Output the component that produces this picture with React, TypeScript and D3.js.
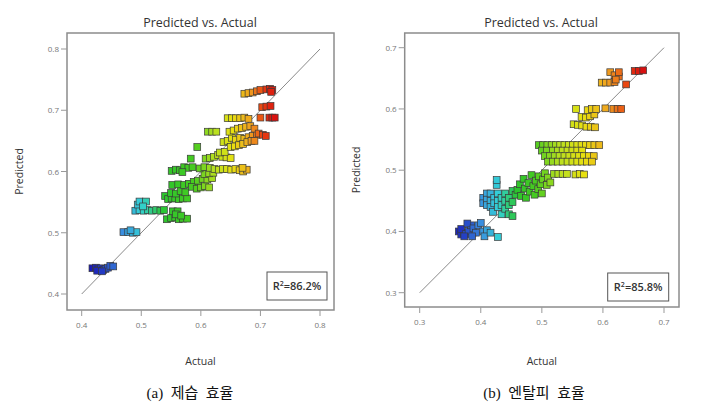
import * as d3 from 'd3';

// (a) 제습 효율 — [actual, predicted]
const dehumActual = [
  0.418, 0.424, 0.428, 0.432, 0.436, 0.440, 0.444, 0.448, 0.453, 0.426, 0.434,
  0.470, 0.478, 0.486, 0.492, 0.482,
  0.490, 0.497, 0.504, 0.511, 0.518, 0.525, 0.532, 0.538, 0.494, 0.497, 0.508, 0.503,
  0.543, 0.550, 0.557, 0.563, 0.570, 0.577, 0.553, 0.561, 0.558, 0.567,
  0.540, 0.545, 0.551, 0.557, 0.563, 0.570, 0.577, 0.550, 0.558, 0.566, 0.574, 0.552, 0.562, 0.572, 0.580, 0.588, 0.585,
  0.551, 0.558, 0.565, 0.572, 0.579, 0.586, 0.569,
  0.593, 0.600, 0.607, 0.614, 0.595, 0.603, 0.611, 0.619, 0.606, 0.614, 0.621, 0.598, 0.606, 0.615, 0.623,
  0.630, 0.637, 0.644, 0.651, 0.658, 0.665, 0.671, 0.677, 0.670,
  0.608, 0.615, 0.622, 0.629, 0.636, 0.643, 0.650, 0.632, 0.640, 0.583, 0.594,
  0.612, 0.619, 0.626,
  0.638, 0.645, 0.652, 0.659, 0.666, 0.673, 0.680, 0.687, 0.694, 0.650, 0.657, 0.664, 0.671, 0.678, 0.685,
  0.648, 0.655, 0.662, 0.669, 0.676, 0.683, 0.690, 0.697, 0.690, 0.704, 0.709,
  0.645, 0.652, 0.659, 0.666, 0.673, 0.680, 0.700, 0.715, 0.720, 0.724,
  0.703, 0.710, 0.717,
  0.673, 0.680, 0.687, 0.694, 0.700, 0.710, 0.716, 0.720, 0.718,
];
const dehumPredicted = [
  0.442, 0.443, 0.440, 0.442, 0.439, 0.441, 0.443, 0.446, 0.445, 0.438, 0.437,
  0.501, 0.501, 0.500, 0.501, 0.504,
  0.536, 0.537, 0.536, 0.537, 0.536, 0.537, 0.536, 0.537, 0.546, 0.551, 0.551, 0.543,
  0.522, 0.524, 0.525, 0.522, 0.523, 0.523, 0.535, 0.535, 0.530, 0.528,
  0.560, 0.555, 0.556, 0.556, 0.555, 0.556, 0.556, 0.565, 0.564, 0.568, 0.566, 0.578, 0.579, 0.578, 0.580, 0.583, 0.575,
  0.601, 0.603, 0.602, 0.607, 0.606, 0.607, 0.599,
  0.572, 0.574, 0.576, 0.574, 0.585, 0.588, 0.587, 0.589, 0.596, 0.597, 0.598, 0.605, 0.607, 0.606, 0.604,
  0.603, 0.604, 0.604, 0.603, 0.604, 0.602, 0.600, 0.603, 0.606,
  0.621, 0.622, 0.624, 0.627, 0.624, 0.623, 0.622, 0.631, 0.632, 0.621, 0.640,
  0.665, 0.665, 0.665,
  0.648, 0.650, 0.655, 0.652, 0.655, 0.653, 0.656, 0.658, 0.660, 0.640, 0.641, 0.643, 0.645, 0.648, 0.650,
  0.665, 0.667, 0.670, 0.671, 0.673, 0.674, 0.670, 0.662, 0.650, 0.660, 0.658,
  0.687, 0.687, 0.687, 0.687, 0.688, 0.686, 0.688, 0.688, 0.688, 0.688,
  0.705, 0.706, 0.707,
  0.727, 0.728, 0.729, 0.731, 0.733, 0.734, 0.735, 0.733, 0.730,
];

// (b) 엔탈피 효율 — [actual, predicted]
const enthActual = [
  0.364, 0.368, 0.372, 0.368, 0.376, 0.380, 0.384, 0.378, 0.388, 0.392, 0.396, 0.400, 0.386, 0.373,
  0.404, 0.410, 0.406, 0.416, 0.428,
  0.404, 0.404, 0.410, 0.410, 0.410, 0.416, 0.416, 0.416, 0.420, 0.422, 0.422, 0.426, 0.426, 0.428, 0.428,
  0.428, 0.434, 0.434, 0.434, 0.440, 0.440, 0.440, 0.446, 0.446, 0.446, 0.452, 0.452, 0.452, 0.457,
  0.460, 0.464, 0.466, 0.470, 0.472, 0.474, 0.478, 0.480, 0.483, 0.486, 0.488, 0.490, 0.494, 0.495,
  0.498, 0.500, 0.502, 0.505, 0.508, 0.510, 0.514,
  0.520, 0.527, 0.534, 0.541, 0.555, 0.562, 0.569,
  0.495, 0.502, 0.509, 0.516, 0.523, 0.530, 0.537, 0.544, 0.551, 0.558, 0.565, 0.572, 0.579, 0.586, 0.594,
  0.500, 0.508, 0.518, 0.526, 0.534, 0.542, 0.550, 0.558, 0.566,
  0.505, 0.513, 0.521, 0.529, 0.537, 0.545, 0.553, 0.561, 0.569, 0.577, 0.585,
  0.510, 0.518, 0.526, 0.534, 0.542, 0.550, 0.558, 0.566, 0.574, 0.582,
  0.552, 0.559, 0.566, 0.573, 0.580, 0.587, 0.565, 0.572, 0.579, 0.586, 0.575, 0.582, 0.589, 0.604, 0.556,
  0.617, 0.624, 0.630,
  0.598, 0.605, 0.612, 0.619, 0.612, 0.619, 0.626, 0.621, 0.626, 0.638,
  0.652, 0.659, 0.666,
];
const enthPredicted = [
  0.400, 0.395, 0.398, 0.404, 0.396, 0.401, 0.410, 0.413, 0.405, 0.398, 0.410, 0.414, 0.392, 0.392,
  0.400, 0.402, 0.392, 0.398, 0.391,
  0.455, 0.446, 0.462, 0.452, 0.443, 0.462, 0.450, 0.440, 0.432, 0.455, 0.446, 0.476, 0.484, 0.462, 0.450,
  0.440, 0.455, 0.443, 0.428, 0.462, 0.450, 0.437, 0.455, 0.443, 0.428, 0.466, 0.448, 0.425, 0.460,
  0.468, 0.477, 0.458, 0.486, 0.470, 0.455, 0.479, 0.465, 0.492, 0.474, 0.460, 0.483, 0.469, 0.490,
  0.477, 0.462, 0.485, 0.495, 0.476, 0.488, 0.480,
  0.494, 0.494, 0.494, 0.494, 0.493, 0.494, 0.493,
  0.541, 0.541, 0.541, 0.541, 0.541, 0.541, 0.541, 0.541, 0.541, 0.541, 0.541, 0.541, 0.541, 0.541, 0.541,
  0.532, 0.532, 0.532, 0.532, 0.532, 0.532, 0.532, 0.532, 0.532,
  0.523, 0.523, 0.523, 0.523, 0.523, 0.523, 0.523, 0.523, 0.523, 0.523, 0.523,
  0.514, 0.514, 0.514, 0.514, 0.514, 0.514, 0.514, 0.514, 0.514, 0.514,
  0.575, 0.574, 0.573, 0.571, 0.571, 0.570, 0.587, 0.586, 0.588, 0.591, 0.598, 0.600, 0.600, 0.601, 0.600,
  0.600, 0.600, 0.600,
  0.643, 0.643, 0.643, 0.644, 0.660, 0.655, 0.653, 0.648, 0.660, 0.640,
  0.662, 0.662, 0.663,
];

const dehumTicks = [0.4, 0.5, 0.6, 0.7, 0.8];
const enthTicks = [0.3, 0.4, 0.5, 0.6, 0.7];

const dehumColorStops = [0.42, 0.47, 0.50, 0.54, 0.59, 0.625, 0.655, 0.685, 0.705, 0.725];
const enthColorStops = [0.36, 0.40, 0.43, 0.46, 0.49, 0.53, 0.57, 0.61, 0.64, 0.665];
const palette = ['#1a1ab8', '#3a8ee0', '#33d2d6', '#2cc42c', '#48cc20', '#b8e020', '#e8e010', '#f0a020', '#e84010', '#d81010'];

const FONT = "'Open Sans', 'Noto Sans', sans-serif";

interface PanelProps {
  frame: { x0: number; x1: number; y0: number; y1: number };
  px: [number, number];
  py: [number, number];
  ticks: number[];
  actual: number[];
  predicted: number[];
  colorStops: number[];
  r2: string;
  box: { x0: number; x1: number; y0: number; y1: number };
  titleX: number;
  ylabelX: number;
  captionX: number;
  caption: string;
}

const Panel = ({ frame, px, py, ticks, actual, predicted, colorStops, r2, box, titleX, ylabelX, captionX, caption }: PanelProps) => {
  const dom = [ticks[0], ticks[ticks.length - 1]];
  const x = d3.scaleLinear().domain(dom).range(px);
  const y = d3.scaleLinear().domain(dom).range(py);
  const color = d3.scaleLinear<string>().domain(colorStops).range(palette).clamp(true);
  const s = 6.8;
  const pts = actual.map((a, i) => ({ a, p: predicted[i] }));
  const midY = (frame.y0 + frame.y1) / 2;
  return (
    <g>
      <text x={titleX} y={27} textAnchor="middle" fontFamily={FONT} fontSize={12.5} fill="#333">Predicted vs. Actual</text>
      <rect x={frame.x0} y={frame.y0} width={frame.x1 - frame.x0} height={frame.y1 - frame.y0} fill="#fff" stroke="#8c8c8c" strokeWidth={1.5} />
      {ticks.map(t => (
        <g key={'y' + t}>
          <line x1={frame.x0 - 6} x2={frame.x0} y1={y(t)} y2={y(t)} stroke="#999" strokeWidth={1} />
          <text x={frame.x0 - 8} y={y(t) + 3} textAnchor="end" fontFamily={FONT} fontSize={8} fill="#777">{t.toFixed(1)}</text>
        </g>
      ))}
      {ticks.map(t => (
        <g key={'x' + t}>
          <line x1={x(t)} x2={x(t)} y1={frame.y1} y2={frame.y1 + 6} stroke="#999" strokeWidth={1} />
          <text x={x(t)} y={frame.y1 + 18} textAnchor="middle" fontFamily={FONT} fontSize={8} fill="#777">{t.toFixed(1)}</text>
        </g>
      ))}
      <line x1={x(dom[0])} y1={y(dom[0])} x2={x(dom[1])} y2={y(dom[1])} stroke="#8a8a8a" strokeWidth={1} />
      {pts.map((d, i) => (
        <rect key={i} x={x(d.a) - s / 2} y={y(d.p) - s / 2} width={s} height={s}
          fill={color(d.a)} stroke="#3a3a3a" strokeWidth={0.7} />
      ))}
      <rect x={box.x0} y={box.y0} width={box.x1 - box.x0} height={box.y1 - box.y0} fill="#fff" stroke="#555" strokeWidth={1} />
      <text x={(box.x0 + box.x1) / 2} y={(box.y0 + box.y1) / 2 + 4} textAnchor="middle" fontFamily={FONT} fontSize={11} fontWeight={600} fill="#333">
        R<tspan fontSize={7} dy={-4}>2</tspan><tspan dy={4}>{'=' + r2}</tspan>
      </text>
      <text x={(frame.x0 + frame.x1) / 2} y={365} textAnchor="middle" fontFamily={FONT} fontSize={10.5} fill="#333">Actual</text>
      <text transform={`translate(${ylabelX},${midY}) rotate(-90)`} textAnchor="middle" fontFamily={FONT} fontSize={10.5} fill="#333">Predicted</text>
      <text x={captionX} y={398} textAnchor="middle" fontFamily="'Liberation Serif', 'DejaVu Serif', 'Noto Sans CJK KR', serif" fontSize={15} fontWeight={400} fill="#111" style={{ whiteSpace: 'pre' }}>{caption}</text>
    </g>
  );
};

export default function App() {
  return (
    <div style={{ position: 'absolute', left: 0, top: 0 }}>
      <svg width={714} height={413} style={{ display: 'block', background: '#fff' }}>
        <Panel
          frame={{ x0: 67, x1: 334, y0: 33, y1: 310 }}
          px={[81.7, 320]} py={[294, 49]}
          ticks={dehumTicks} actual={dehumActual} predicted={dehumPredicted}
          colorStops={dehumColorStops} r2="86.2%"
          box={{ x0: 267, x1: 327, y0: 272, y1: 300 }}
          titleX={200} ylabelX={23} captionX={190} caption="(a)  제습  효율" />
        <Panel
          frame={{ x0: 404.7, x1: 679, y0: 33, y1: 307 }}
          px={[419.7, 664]} py={[292.7, 47.7]}
          ticks={enthTicks} actual={enthActual} predicted={enthPredicted}
          colorStops={enthColorStops} r2="85.8%"
          box={{ x0: 607.7, x1: 668.7, y0: 273, y1: 301 }}
          titleX={541} ylabelX={360} captionX={534} caption="(b)  엔탈피  효율" />
      </svg>
    </div>
  );
}
